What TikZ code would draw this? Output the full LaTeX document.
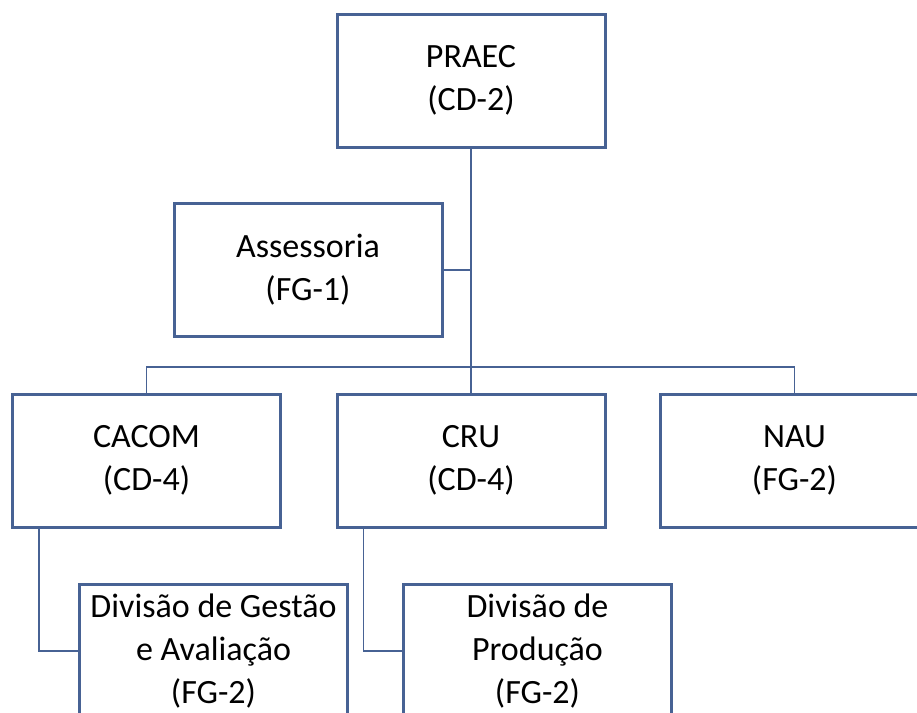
\documentclass[tikz,border=0pt]{standalone}
\usepackage{fontspec}
\setmainfont{Carlito}
\usetikzlibrary{positioning}
\definecolor{orgblue}{RGB}{71,98,148}
\tikzstyle{orgbox} = [draw=orgblue, fill=white, line width=1.5pt,
    rectangle, align=center, inner sep=2pt,
    minimum width=134pt, minimum height=66.5pt,
    font=\fontsize{17pt}{21.5pt}\selectfont]
\tikzstyle{orgline} = [draw=orgblue, line width=0.8pt]

\begin{document}
\begin{tikzpicture}[x=0.5pt,y=-0.5pt]
\clip (0,0) rectangle (917,713);
\fill[white] (0,0) rectangle (917,713);

\node[orgbox] (praec) at (471,80.5) {PRAEC\\(CD-2)};
\node[orgbox] (assessoria) at (308,270) {Assessoria\\(FG-1)};

\node[orgbox] (cacom) at (146.5,460.5) {CACOM\\(CD-4)};
\node[orgbox] (cru) at (471,460.5) {CRU\\(CD-4)};
\node[orgbox] (nau) at (794.5,460.5) {NAU\\(FG-2)};

\node[orgbox] (divgestao) at (213.5,651) {Divisão de Gestão\\e Avaliação\\(FG-2)};
\node[orgbox] (divproducao) at (537.5,651) {Divisão de\\Produção\\(FG-2)};

% connectors
\coordinate (bar) at (471,367);
\draw[orgline] (praec.south) -- (cru.north);
\draw[orgline] (assessoria.east) -- (assessoria.east -| praec.south);
\draw[orgline] (cacom.north) |- (bar) -| (nau.north);
\draw[orgline] ([xshift=14pt]cacom.south west) |- (divgestao.west);
\draw[orgline] ([xshift=14pt]cru.south west) |- (divproducao.west);
\end{tikzpicture}
\end{document}
